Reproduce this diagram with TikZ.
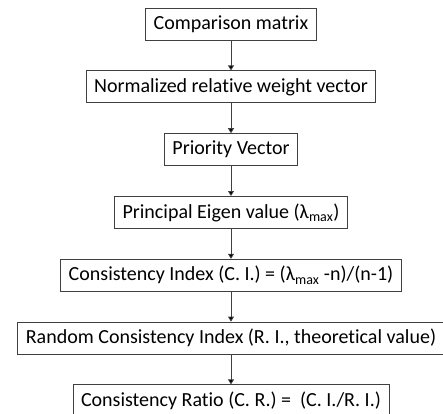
\documentclass[tikz,border=0pt]{standalone}
\usepackage{fontspec}
\setmainfont[Ligatures=NoCommon]{Carlito}
\usepackage{tikz}
\usetikzlibrary{shapes, arrows.meta, positioning}

\begin{document}
\begin{tikzpicture}[node distance=30pt,
		box/.style={draw=black!75, line width=0.8pt, rectangle, minimum height=32pt, inner xsep=8pt, font=\fontsize{20}{23}\selectfont},
		>={Triangle[length=5pt,width=6pt]}]
		\useasboundingbox (0,0) rectangle (443pt,-413pt);
		\node[box] (cm) at (231pt,-24pt) {Comparison matrix};
		\node[box] (nw) [below=of cm] {Normalized relative weight vector};
		\node[box] (pv) [below=of nw] {Priority Vector};
		\node[box] (pe) [below=of pv] {Principal Eigen value (λ\textsubscript{max})};
		\node[box] (ci) [below=of pe] {Consistency Index (C. I.) = (λ\textsubscript{max} -n)/(n-1)};
		\node[box] (ri) [below=of ci] {Random Consistency Index (R. I., theoretical value)};
		\node[box] (cr) [below=of ri] {Consistency Ratio (C. R.) = ~(C. I./R. I.)};
		\draw[->, draw=black!75, line width=0.8pt]
			(cm) edge (nw)
			(nw) edge (pv)
			(pv) edge (pe)
			(pe) edge (ci)
			(ci) edge (ri)
			(ri) edge (cr);
		\end{tikzpicture}
\end{document}
